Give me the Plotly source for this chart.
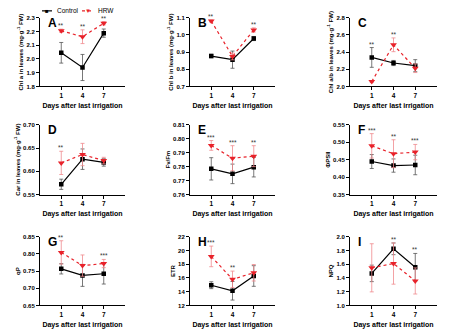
import plotly.graph_objects as go

days = [1, 4, 7]

panel_letters = ["A", "B", "C", "D", "E", "F", "G", "H", "I"]
series_names = ["Control", "HRW"]
y_titles = [
    "Chl a in leaves (mg·g<sup>-1</sup> FW)",
    "Chl b in leaves (mg·g<sup>-1</sup> FW)",
    "Chl a/b in leaves (mg·g<sup>-1</sup> FW)",
    "Car in leaves (mg·g<sup>-1</sup> FW)",
    "Fv/Fm",
    "ΦPSII",
    "qP",
    "ETR",
    "NPQ",
]

# Control means / errors
ctrl_a = [2.045, 1.938, 2.188]; ctrl_a_err = [0.075, 0.095, 0.03]
hrw_a = [2.205, 2.162, 2.26]; hrw_a_err = [0.012, 0.05, 0.012]
ctrl_b = [0.877, 0.856, 0.979]; ctrl_b_err = [0.01, 0.05, 0.012]
hrw_b = [1.081, 0.875, 1.029]; hrw_b_err = [0.006, 0.02, 0.012]
ctrl_ab = [2.338, 2.273, 2.242]; ctrl_ab_err = [0.115, 0.03, 0.07]
hrw_ab = [2.058, 2.485, 2.212]; hrw_ab_err = [0.01, 0.08, 0.05]
ctrl_car = [0.572, 0.626, 0.619]; ctrl_car_err = [0.011, 0.022, 0.008]
hrw_car = [0.618, 0.636, 0.623]; hrw_car_err = [0.025, 0.024, 0.007]
ctrl_fvfm = [0.7784, 0.7748, 0.7796]; ctrl_fvfm_err = [0.008, 0.007, 0.007]
hrw_fvfm = [0.7952, 0.786, 0.7875]; hrw_fvfm_err = [0.0035, 0.009, 0.0075]
ctrl_psii = [0.4446, 0.433, 0.4347]; ctrl_psii_err = [0.02, 0.019, 0.028]
hrw_psii = [0.4896, 0.467, 0.4716]; hrw_psii_err = [0.035, 0.04, 0.022]
ctrl_qp = [0.7567, 0.7376, 0.7424]; ctrl_qp_err = [0.015, 0.032, 0.03]
hrw_qp = [0.8043, 0.766, 0.772]; hrw_qp_err = [0.034, 0.031, 0.012]
ctrl_etr = [14.95, 14.14, 16.29]; ctrl_etr_err = [0.5, 1.35, 1.5]
hrw_etr = [19.14, 15.8, 16.76]; hrw_etr_err = [1.5, 1.2, 1.2]
ctrl_npq = [1.467, 1.824, 1.557]; ctrl_npq_err = [0.12, 0.085, 0.2]
hrw_npq = [1.548, 1.61, 1.357]; hrw_npq_err = [0.35, 0.3, 0.19]

ctrl_all = [ctrl_a, ctrl_b, ctrl_ab, ctrl_car, ctrl_fvfm, ctrl_psii, ctrl_qp, ctrl_etr, ctrl_npq]
ctrl_err_all = [ctrl_a_err, ctrl_b_err, ctrl_ab_err, ctrl_car_err, ctrl_fvfm_err, ctrl_psii_err, ctrl_qp_err, ctrl_etr_err, ctrl_npq_err]
hrw_all = [hrw_a, hrw_b, hrw_ab, hrw_car, hrw_fvfm, hrw_psii, hrw_qp, hrw_etr, hrw_npq]
hrw_err_all = [hrw_a_err, hrw_b_err, hrw_ab_err, hrw_car_err, hrw_fvfm_err, hrw_psii_err, hrw_qp_err, hrw_etr_err, hrw_npq_err]

# significance marks per day
stars = [
    ["**", "**", "**"],
    ["**", "", "**"],
    ["**", "**", ""],
    ["**", "", ""],
    ["***", "***", "**"],
    ["***", "**", "***"],
    ["**", "", "***"],
    ["***", "**", ""],
    ["", "**", "**"],
]

y_ranges = [(1.8, 2.3), (0.7, 1.1), (2.0, 2.8), (0.55, 0.70), (0.76, 0.81),
            (0.35, 0.55), (0.65, 0.85), (12, 22), (1.0, 2.0)]
y_dticks = [0.1, 0.1, 0.2, 0.05, 0.01, 0.05, 0.05, 2, 0.2]
y_formats = [".1f", ".1f", ".1f", ".2f", ".2f", ".2f", ".2f", "d", ".1f"]

W, H = 454, 335
col_px = [(40, 125), (190, 275), (350, 437)]
row_px = [(15, 85), (124, 195), (238, 308)]

FONT = "Liberation Sans, Arial, sans-serif"
RED = "#e8222a"
RED_ERR = "#f08a8e"

fig = go.Figure()
layout = dict(
    width=W, height=H, margin=dict(l=0, r=0, t=0, b=0),
    paper_bgcolor="white", plot_bgcolor="white",
    font=dict(family=FONT, color="black"),
    showlegend=False,
)
annotations = []
shapes = []

for i in range(9):
    r, c = divmod(i, 3)
    n = "" if i == 0 else str(i + 1)
    xa, ya = "x" + n, "y" + n
    x0, x1 = col_px[c]
    yt, yb = row_px[r]
    layout["xaxis" + n] = dict(
        domain=[x0 / W, x1 / W], anchor=ya, range=[-2, 10],
        tickvals=days, ticktext=[str(d) for d in days],
        showline=True, linecolor="black", linewidth=1,
        ticks="outside", ticklen=3, tickwidth=1, tickcolor="black",
        showgrid=False, zeroline=False,
        tickfont=dict(size=6.5, weight="bold"),
        title=dict(text="Days after last irrigation", font=dict(size=7, weight="bold"), standoff=4),
    )
    ylo, yhi = y_ranges[i]
    layout["yaxis" + n] = dict(
        domain=[1 - yb / H, 1 - yt / H], anchor=xa, range=[ylo, yhi],
        dtick=y_dticks[i], tick0=ylo, tickformat=y_formats[i],
        showline=True, linecolor="black", linewidth=1,
        ticks="outside", ticklen=3, tickwidth=1, tickcolor="black",
        showgrid=False, zeroline=False,
        tickfont=dict(size=6, weight="bold"),
        title=dict(text=y_titles[i], font=dict(size=6, weight="bold"), standoff=2),
    )
    fig.add_trace(go.Scatter(
        x=days, y=ctrl_all[i], xaxis=xa, yaxis=ya, name=series_names[0],
        mode="lines+markers",
        line=dict(color="black", width=1.2),
        marker=dict(symbol="square", size=4.5, color="black"),
        error_y=dict(type="data", array=ctrl_err_all[i], color="#555555", thickness=0.8, width=2),
    ))
    fig.add_trace(go.Scatter(
        x=days, y=hrw_all[i], xaxis=xa, yaxis=ya, name=series_names[1],
        mode="lines+markers",
        line=dict(color=RED, width=1.2, dash="dot"),
        marker=dict(symbol="triangle-down", size=6, color=RED),
        error_y=dict(type="data", array=hrw_err_all[i], color=RED_ERR, thickness=0.8, width=2),
    ))
    # significance stars
    for j, d in enumerate(days):
        if stars[i][j]:
            top = max(ctrl_all[i][j] + ctrl_err_all[i][j], hrw_all[i][j] + hrw_err_all[i][j])
            annotations.append(dict(
                x=d, y=top, xref=xa, yref=ya, text=stars[i][j], showarrow=False,
                yanchor="bottom", yshift=-2, font=dict(size=6.5, color="#333333"),
            ))
    # panel letter
    annotations.append(dict(
        x=0.07, y=1.05, xref=xa + " domain", yref=ya + " domain", text="<b>" + panel_letters[i] + "</b>",
        showarrow=False, xanchor="left", yanchor="top", font=dict(size=12, color="black"),
    ))

# compact manual legend (top-left)
ly = 1 - 8 / H
legend_items = [
    (42, 52, "black", "solid", "■", 6, series_names[0], 55),
    (82, 93, RED, "dot", "▼", 6, series_names[1], 96),
]
for lx0, lx1, col, dash, sym, sz, label, tx in legend_items:
    shapes.append(dict(type="line", xref="paper", yref="paper", x0=lx0 / W, x1=lx1 / W, y0=ly, y1=ly,
                       line=dict(color=col, width=1.2, dash=dash)))
    annotations.append(dict(x=(lx0 + lx1) / 2 / W, y=ly, xref="paper", yref="paper", text=sym,
                            showarrow=False, xanchor="center", yanchor="middle",
                            font=dict(size=sz, color=col)))
    annotations.append(dict(x=tx / W, y=ly, xref="paper", yref="paper", text=label,
                            showarrow=False, xanchor="left", yanchor="middle",
                            font=dict(size=6.5, color="black")))

layout["annotations"] = annotations
layout["shapes"] = shapes
fig.update_layout(**layout)
fig.write_html("out.html")
